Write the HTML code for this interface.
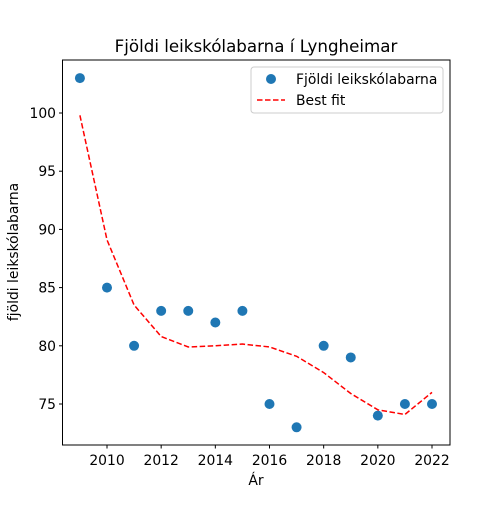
<!DOCTYPE html>
<html><head><meta charset="utf-8"><style>body{margin:0;background:#fff}svg text{font-family:"DejaVu Sans","Liberation Sans",sans-serif}</style></head>
<body>
<svg id="chart" width="500" height="500" xmlns="http://www.w3.org/2000/svg">
<rect width="500" height="500" fill="#fff"/>
<text x="256" y="52" text-anchor="middle" font-size="16.7">Fjöldi leikskólabarna í Lyngheimar</text>
<g id="marks"></g>
<rect x="62.5" y="60" width="387.5" height="385" fill="none" stroke="#000" stroke-width="1"/>
<g id="ticks"></g>
<text x="256" y="485" text-anchor="middle" font-size="13.9">Ár</text>
<text transform="translate(18,252) rotate(-90)" text-anchor="middle" font-size="13.9">fjöldi leikskólabarna</text>
<g>
<rect x="251" y="67" width="192" height="46" rx="3" fill="#fff" stroke="#ccc"/>
<circle cx="271" cy="79" r="5" fill="#1f77b4"/>
<text x="296" y="84" font-size="13.9">Fjöldi leikskólabarna</text>
<line x1="257" y1="100" x2="285" y2="100" stroke="red" stroke-width="1.5" stroke-dasharray="5.5,2.5"/>
<text x="296" y="105" font-size="13.9">Best fit</text>
</g>
</svg>
<script>
const years=[2009,2010,2011,2012,2013,2014,2015,2016,2017,2018,2019,2020,2021,2022];
const counts=[103,85,80,83,83,82,83,75,73,80,79,74,75,75];
const fitValues=[99.8,89.1,83.5,80.8,79.9,80.0,80.15,79.9,79.1,77.7,75.9,74.5,74.1,76.0];
const xTicks=[2010,2012,2014,2016,2018,2020,2022];
const yTicks=[75,80,85,90,95,100];
const NS="http://www.w3.org/2000/svg";
const xs=v=>107+(v-2010)*(325/12);
const ys=v=>113+(100-v)*(291/25);
const marks=document.getElementById('marks'),ticks=document.getElementById('ticks');
function mk(t,a,p){const e=document.createElementNS(NS,t);for(const k in a)e.setAttribute(k,a[k]);p.appendChild(e);return e;}
years.forEach((y,i)=>{const c=mk('circle',{cx:xs(y),cy:ys(counts[i]),r:5,fill:'#1f77b4'},marks);

});
const pl=mk('polyline',{points:years.map((y,i)=>xs(y)+','+ys(fitValues[i])).join(' '),fill:'none',stroke:'red','stroke-width':1.5,'stroke-dasharray':'5.5,2.5'},marks);


xTicks.forEach(t=>{const x=xs(t);mk('line',{x1:x,x2:x,y1:445,y2:448.5,stroke:'#000'},ticks);
const tx=mk('text',{x:x,y:465,'text-anchor':'middle','font-size':13.9},ticks);tx.textContent=t;

});
yTicks.forEach(t=>{const y=ys(t);mk('line',{x1:59,x2:62.5,y1:y,y2:y,stroke:'#000'},ticks);
const tx=mk('text',{x:56,y:y+5,'text-anchor':'end','font-size':13.9},ticks);tx.textContent=t;

});
</script>
</body></html>
